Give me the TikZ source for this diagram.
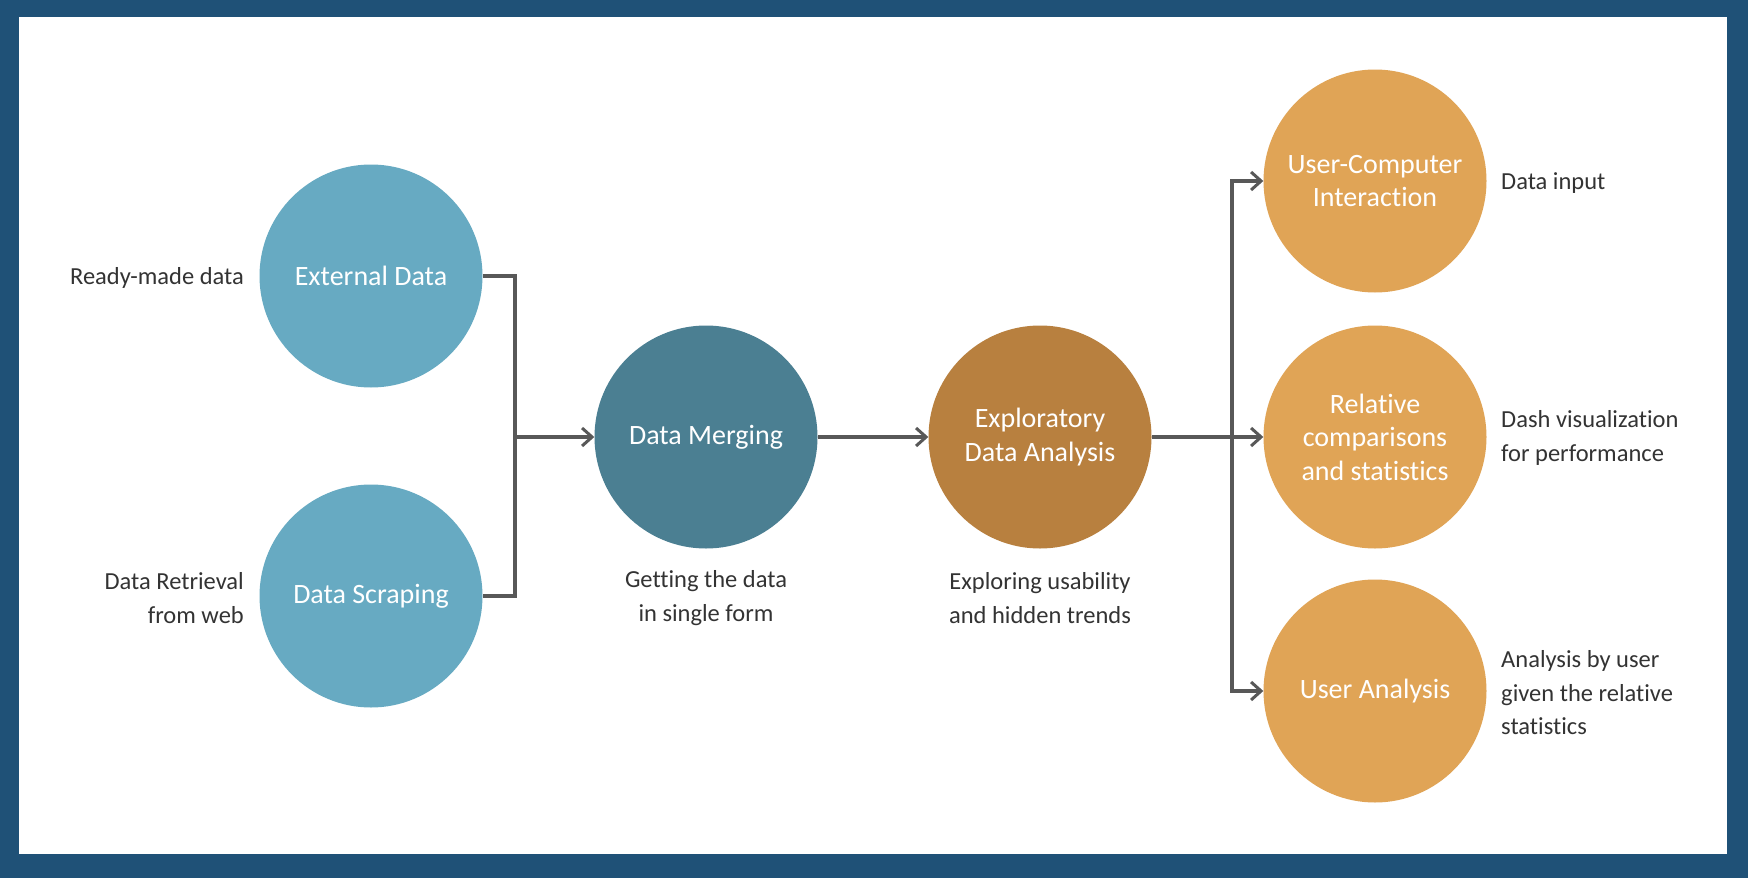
\documentclass[tikz,border=0pt]{standalone}
\usepackage{fontspec}
\setmainfont[Ligatures={NoCommon,NoRare,NoDiscretionary}]{Carlito}
\usetikzlibrary{arrows.meta}
\definecolor{frame}{HTML}{1F5177}
\definecolor{cblue}{HTML}{67AAC2}
\definecolor{cteal}{HTML}{4B7F92}
\definecolor{cbrown}{HTML}{B8803F}
\definecolor{corange}{HTML}{E0A456}
\definecolor{cline}{HTML}{585858}
\definecolor{ctext}{HTML}{333333}
\tikzset{
  bubble/.style={circle, minimum size=223pt, inner sep=0pt, text=white, align=center,
    font=\fontsize{28}{33.5}\selectfont},
  note/.style={text=ctext, inner sep=0pt, font=\fontsize{24.5}{33.5}\selectfont},
  conn/.style={draw=cline, line width=3.2pt},
  arr/.style={conn, -{Straight Barb[length=10pt, width=18pt, line width=3pt]}},
}
\begin{document}
\begin{tikzpicture}[x=1pt, y=-1pt]
\fill[frame] (0,0) rectangle (1748,878);
\fill[white] (19,17) rectangle (1727,854);
\useasboundingbox (0,0) rectangle (1748,878);

\node[bubble, fill=cblue] (ext) at (371,276) {External Data};
\node[bubble, fill=cblue] (scr) at (371,596) {Data Scraping};
\node[bubble, fill=cteal] (mrg) at (706,437) {Data Merging};
\node[bubble, fill=cbrown] (eda) at (1040,437) {Exploratory\\Data Analysis};
\node[bubble, fill=corange] (uci) at (1375,181) {User-Computer\\Interaction};
\node[bubble, fill=corange] (rel) at (1375,437) {Relative\\comparisons\\and statistics};
\node[bubble, fill=corange] (ua) at (1375,691) {User Analysis};

\node[note, anchor=east, align=right] (n1) at (244,278) {Ready-made data};
\node[note, anchor=east, align=right] (n2) at (244,598) {Data Retrieval\\from web};
\node[note, align=center] (n3) at (706,598) {Getting the data\\in single form};
\node[note, align=center] (n4) at (1040,598) {Exploring usability\\and hidden trends};
\node[note, anchor=west, align=left] (n5) at (1501,183) {Data input};
\node[note, anchor=west, align=left] (n6) at (1501,438) {Dash visualization\\for performance};
\node[note, anchor=west, align=left] (n7) at (1501,693) {Analysis by user\\given the relative\\statistics};

\coordinate (j1) at (515,437);
\coordinate (j2) at (1232,437);

\draw[conn] (ext.east) -| (j1) |- (scr.east);
\draw[arr] (j1) -- (mrg.west);
\draw[arr] (mrg.east) -- (eda.west);
\draw[conn] (eda.east) -- (j2);
\draw[arr] (j2) |- (uci.west);
\draw[arr] (j2) -- (rel.west);
\draw[arr] (j2) |- (ua.west);
\end{tikzpicture}
\end{document}
